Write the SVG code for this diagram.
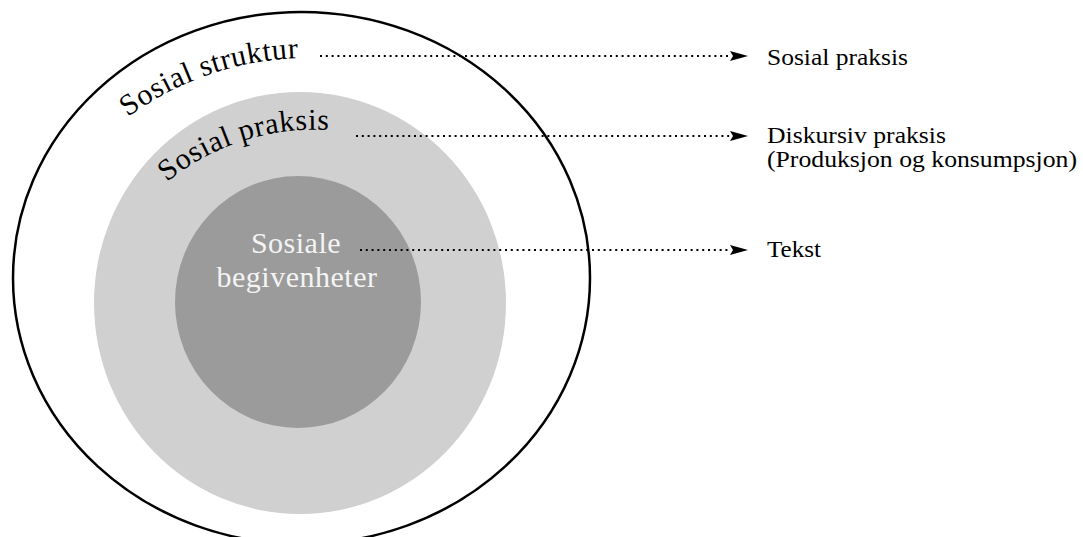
<svg xmlns="http://www.w3.org/2000/svg" width="1083" height="537" viewBox="0 0 1083 537">
  <style>
    .serif { font-family: "Liberation Serif", "DejaVu Serif", serif; }
    .ring { font-size: 30px; fill: #000; letter-spacing: 0.6px; }
    .label { font-size: 23px; fill: #000; }
    .inner { font-size: 30px; fill: #f4f4f4; text-anchor: middle; letter-spacing: 0.5px; }
    .dots { stroke: #000; stroke-width: 2.2; stroke-dasharray: 2 3.8; fill: none; }
  </style>
  <defs>
    <marker id="arrow" markerUnits="userSpaceOnUse" markerWidth="20" markerHeight="12" refX="0" refY="6" orient="auto">
      <path d="M0,1 L18,6 L0,11 L3,6 Z" fill="#000"/>
    </marker>
    <path id="arcStruktur" d="M128,117 A306,306 0 0,1 384.2,67.4"/>
    <path id="arcPraksis" d="M167,182 A234,234 0 0,1 372.6,137"/>
  </defs>

  <g id="sosial-struktur">
    <ellipse cx="301.5" cy="278" rx="288.5" ry="266" fill="#fff" stroke="#000" stroke-width="2.5"/>
    <text class="serif ring"><textPath href="#arcStruktur">Sosial struktur</textPath></text>
  </g>

  <g id="sosial-praksis">
    <ellipse cx="300" cy="303" rx="206" ry="211" fill="#d0d0d0"/>
    <text class="serif ring"><textPath href="#arcPraksis">Sosial praksis</textPath></text>
  </g>

  <g id="sosiale-begivenheter">
    <ellipse cx="298" cy="302" rx="123" ry="126" fill="#9b9b9b"/>
    <text class="serif inner" x="296" y="253">Sosiale</text>
    <text class="serif inner" x="297" y="287">begivenheter</text>
  </g>

  <g id="connectors">
    <line class="dots" x1="320" y1="56" x2="730" y2="56" marker-end="url(#arrow)"/>
    <line class="dots" x1="356" y1="136" x2="730" y2="136" marker-end="url(#arrow)"/>
    <line class="dots" x1="360" y1="250" x2="730" y2="250" marker-end="url(#arrow)"/>
  </g>

  <g id="label-sosial-praksis">
    <text class="serif label" x="767" y="65" textLength="141" lengthAdjust="spacingAndGlyphs">Sosial praksis</text>
  </g>
  <g id="label-diskursiv-praksis">
    <text class="serif label" x="767" y="143" textLength="179" lengthAdjust="spacingAndGlyphs">Diskursiv praksis</text>
    <text class="serif label" x="767" y="167" textLength="310" lengthAdjust="spacingAndGlyphs">(Produksjon og konsumpsjon)</text>
  </g>
  <g id="label-tekst">
    <text class="serif label" x="767" y="257" textLength="54" lengthAdjust="spacingAndGlyphs">Tekst</text>
  </g>
</svg>
